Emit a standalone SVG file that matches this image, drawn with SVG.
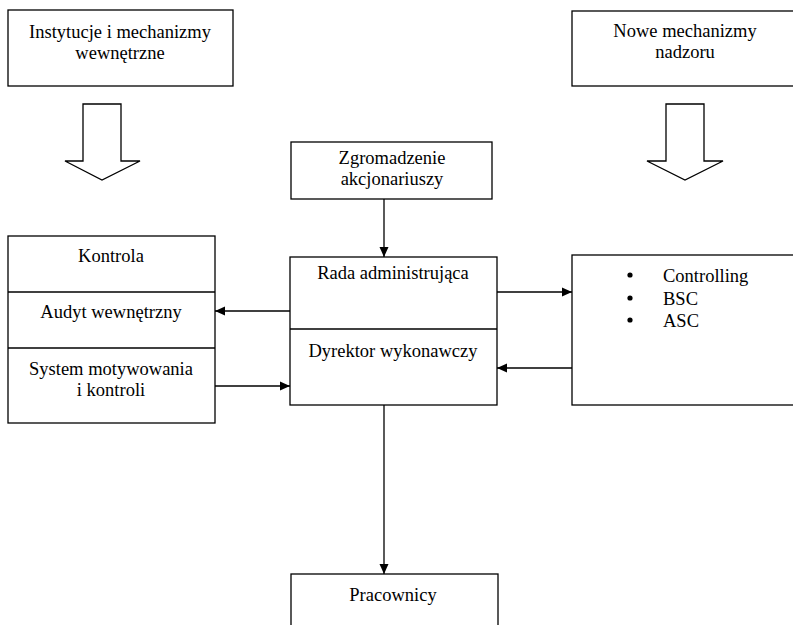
<svg xmlns="http://www.w3.org/2000/svg" width="793" height="625" viewBox="0 0 793 625">
<defs>
<style>
.b{fill:#fff;stroke:#000;stroke-width:1.3}
.l{fill:none;stroke:#000;stroke-width:1.3}
text{font-family:"Liberation Serif","Times New Roman",serif;font-size:18.5px;fill:#000}
.c{text-anchor:middle}
</style>
<marker id="ah" viewBox="0 0 10 10" refX="10" refY="5" markerWidth="10" markerHeight="10" markerUnits="userSpaceOnUse" orient="auto">
<path d="M0,0.5 L10,5 L0,9.5 Z" fill="#000"/>
</marker>
</defs>
<rect width="793" height="625" fill="#fff"/>
<g id="instytucje">
<rect class="b" x="8" y="10" width="225" height="76"/>
<text class="c" x="120" y="38">Instytucje i mechanizmy</text>
<text class="c" x="120" y="59">wewnętrzne</text>
</g>
<g id="arrow-left">
<path class="b" d="M83,104 L121,104 L121,161 L140,161 L102,180 L65,161 L83,161 Z"/>
</g>
<g id="nowe">
<rect class="b" x="572" y="11" width="230" height="75"/>
<text class="c" x="685" y="37">Nowe mechanizmy</text>
<text class="c" x="685" y="58">nadzoru</text>
</g>
<g id="arrow-right">
<path class="b" d="M666,104 L704,104 L704,161 L723,161 L685,180 L647,161 L666,161 Z"/>
</g>
<g id="zgromadzenie">
<rect class="b" x="291" y="142" width="201" height="57"/>
<text class="c" x="392" y="164">Zgromadzenie</text>
<text class="c" x="392" y="185">akcjonariuszy</text>
</g>
<g id="kontrola">
<rect class="b" x="8" y="236" width="207" height="187"/>
<line class="l" x1="8" y1="292" x2="215" y2="292"/>
<line class="l" x1="8" y1="348" x2="215" y2="348"/>
<text class="c" x="111" y="262">Kontrola</text>
<text class="c" x="111" y="318">Audyt wewnętrzny</text>
<text class="c" x="111" y="375">System motywowania</text>
<text class="c" x="111" y="396">i kontroli</text>
</g>
<g id="rada">
<rect class="b" x="290" y="257" width="207" height="148"/>
<line class="l" x1="290" y1="329" x2="497" y2="329"/>
<text class="c" x="393" y="279">Rada administrująca</text>
<text class="c" x="393" y="357">Dyrektor wykonawczy</text>
</g>
<g id="nadzor">
<rect class="b" x="572" y="255" width="230" height="150"/>
<circle cx="630" cy="275" r="2.6" fill="#000"/>
<circle cx="630" cy="298" r="2.6" fill="#000"/>
<circle cx="630" cy="320" r="2.6" fill="#000"/>
<text x="663" y="282">Controlling</text>
<text x="663" y="305">BSC</text>
<text x="663" y="327">ASC</text>
</g>
<g id="pracownicy">
<rect class="b" x="291" y="574" width="207" height="70"/>
<text class="c" x="393" y="601">Pracownicy</text>
</g>
<g id="connectors">
<line class="l" x1="384" y1="199" x2="384" y2="257" marker-end="url(#ah)"/>
<line class="l" x1="290" y1="311" x2="215" y2="311" marker-end="url(#ah)"/>
<line class="l" x1="215" y1="386" x2="290" y2="386" marker-end="url(#ah)"/>
<line class="l" x1="497" y1="292" x2="572" y2="292" marker-end="url(#ah)"/>
<line class="l" x1="572" y1="368" x2="497" y2="368" marker-end="url(#ah)"/>
<line class="l" x1="384" y1="405" x2="384" y2="574" marker-end="url(#ah)"/>
</g>
</svg>
